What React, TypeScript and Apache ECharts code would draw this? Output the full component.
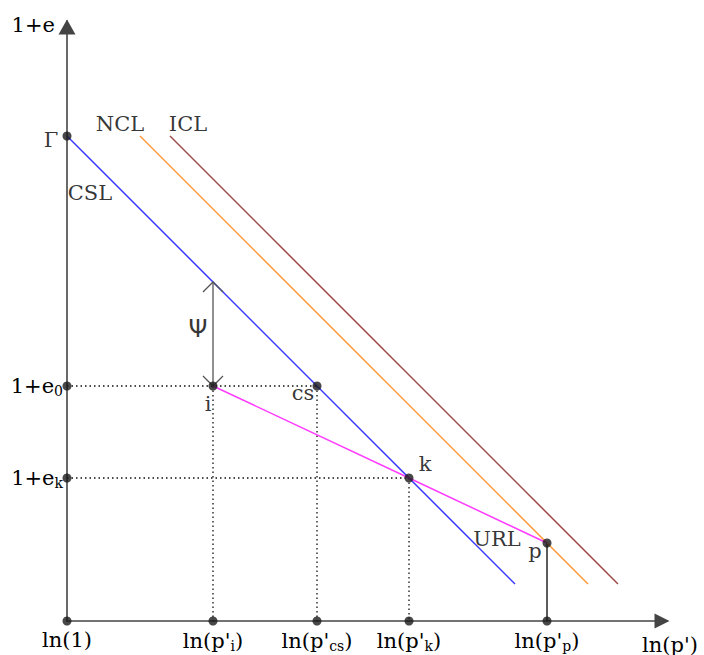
import React, { useEffect, useRef } from "react";
import * as echarts from "echarts";

// ---- values (axis units: ln(p') horizontally, 1+e vertically) ----
const GAMMA = [0, 4.85];          // CSL intercept Γ
const POINT_I = [1.46, 2.35];     // initial state i
const POINT_CS = [2.5, 2.35];     // critical state at e0
const POINT_K = [3.42, 1.43];     // k (URL ∩ CSL)
const POINT_P = [4.8, 0.78];      // p (on NCL)
const PSI_TOP = [1.46, 3.39];     // CSL above i

const CSL = [GAMMA, [4.48, 0.37]];
const NCL = [[0.73, 4.85], [5.21, 0.37]];
const ICL = [[1.03, 4.85], [5.51, 0.37]];
const URL = [POINT_I, POINT_K, POINT_P];

const X_TICKS = [0, POINT_I[0], POINT_CS[0], POINT_K[0], POINT_P[0]];
const X_TICK_LABELS = ["ln(1)", "ln(p'{s|i})", "ln(p'{s|cs})", "ln(p'{s|k})", "ln(p'{s|p})"];
const Y_TICKS = [POINT_I[1], POINT_K[1]];
const Y_TICK_LABELS = ["1+e{s|0}", "1+e{s|k}"];

const FONT = "DejaVu Serif";
const TXT = "#000";
const FS = 21;

export default function App() {
  const ref = useRef<HTMLDivElement>(null);
  useEffect(() => {
    if (!ref.current) return;
    const chart = echarts.init(ref.current, undefined, { renderer: "svg" });

    const rich = { s: { fontSize: 14, fontFamily: FONT, color: TXT, padding: [10, 0, 0, 0] } };
    const axisLineStyle = { color: "#444", width: 1.6 };

    const dotted = (pts: number[][]) => ({
      type: "line",
      data: pts,
      symbol: "none",
      silent: true,
      lineStyle: { color: "#111", width: 1.3, type: [1.5, 3] },
      z: 1,
    });

    const line = (pts: number[][], color: string) => ({
      type: "line",
      data: pts,
      symbol: "none",
      silent: true,
      lineStyle: { color, width: 1.5 },
      z: 2,
    });

    const ann = (pt: number[], text: string, offset: number[], size = FS, family = FONT) => ({
      value: pt,
      symbolSize: 0,
      label: {
        show: true,
        position: "inside",
        formatter: text,
        offset,
        fontSize: size,
        fontFamily: family,
        color: TXT,
        align: "center",
        verticalAlign: "middle",
      },
    });

    const dots = [
      GAMMA, [0, POINT_I[1]], [0, POINT_K[1]], [0, 0],
      [POINT_I[0], 0], [POINT_CS[0], 0], [POINT_K[0], 0], [POINT_P[0], 0],
      POINT_I, POINT_CS, POINT_K, POINT_P,
    ];

    chart.setOption({
      animation: false,
      grid: { left: 67, top: 21, width: 600, height: 600 },
      xAxis: {
        type: "value",
        min: 0,
        max: 6,
        splitLine: { show: false },
        axisTick: { show: false },
        axisLine: {
          onZero: false,
          lineStyle: axisLineStyle,
          symbol: ["none", "triangle"],
          symbolSize: [15, 15],
          symbolOffset: [0, -5],
        },
        axisLabel: {
          customValues: X_TICKS,
          formatter: (v: number) => {
            const i = X_TICKS.findIndex((t) => Math.abs(t - v) < 1e-6);
            return i >= 0 ? X_TICK_LABELS[i] : "";
          },
          margin: 8,
          fontSize: FS,
          fontFamily: FONT,
          color: TXT,
          rich,
        },
        name: "ln(p')",
        nameLocation: "end",
        nameGap: 3,
        nameTextStyle: {
          fontSize: FS,
          fontFamily: FONT,
          color: TXT,
          align: "center",
          verticalAlign: "top",
          padding: [13, 0, 0, 0],
        },
      },
      yAxis: {
        type: "value",
        min: 0,
        max: 6,
        splitLine: { show: false },
        axisTick: { show: false },
        axisLine: {
          onZero: false,
          lineStyle: axisLineStyle,
          symbol: ["none", "triangle"],
          symbolSize: [17, 15],
          symbolOffset: [0, -6],
        },
        axisLabel: {
          customValues: Y_TICKS,
          formatter: (v: number) => {
            const i = Y_TICKS.findIndex((t) => Math.abs(t - v) < 1e-6);
            return i >= 0 ? Y_TICK_LABELS[i] : "";
          },
          margin: 4,
          fontSize: FS,
          fontFamily: FONT,
          color: TXT,
          rich,
        },
        name: "1+e",
        nameLocation: "end",
        nameGap: -4,
        nameTextStyle: {
          fontSize: FS,
          fontFamily: FONT,
          color: TXT,
          align: "right",
          verticalAlign: "middle",
          padding: [0, 12, 0, 0],
        },
      },
      series: [
        dotted([[0, POINT_I[1]], POINT_CS]),
        dotted([[0, POINT_K[1]], POINT_K]),
        dotted([POINT_I, [POINT_I[0], 0]]),
        dotted([POINT_CS, [POINT_CS[0], 0]]),
        dotted([POINT_K, [POINT_K[0], 0]]),
        {
          type: "line",
          data: [POINT_P, [POINT_P[0], 0]],
          symbol: "none",
          silent: true,
          lineStyle: { color: "#333", width: 1.6 },
          z: 1,
        },
        line(CSL, "#3a3aff"),
        line(NCL, "#ff9a3c"),
        line(ICL, "#a04a4a"),
        line(URL, "#ff3cff"),
        {
          type: "custom",
          silent: true,
          data: [[PSI_TOP[0], PSI_TOP[1], POINT_I[1]]],
          renderItem: (params: any, api: any) => {
            const t = api.coord([api.value(0), api.value(1)]);
            const b = api.coord([api.value(0), api.value(2)]);
            const st = { stroke: "#555", lineWidth: 1.3, fill: "none" };
            return {
              type: "group",
              children: [
                { type: "line", shape: { x1: t[0], y1: t[1], x2: b[0], y2: b[1] }, style: st },
                {
                  type: "polyline",
                  shape: { points: [[t[0] - 10, t[1] + 10], [t[0], t[1]], [t[0] + 10, t[1] + 10]] },
                  style: st,
                },
                {
                  type: "polyline",
                  shape: { points: [[b[0] - 10, b[1] - 10], [b[0], b[1]], [b[0] + 10, b[1] - 10]] },
                  style: st,
                },
              ],
            };
          },
          z: 3,
        },
        {
          type: "scatter",
          data: dots,
          symbolSize: 9,
          itemStyle: { color: "#1a1a1a" },
          silent: true,
          z: 5,
        },
        {
          type: "scatter",
          silent: true,
          z: 6,
          data: [
            ann(GAMMA, "Γ", [-16, 4]),
            ann(NCL[0], "NCL", [-20, -12]),
            ann(ICL[0], "ICL", [18, -12]),
            ann(GAMMA, "CSL", [23, 57]),
            ann([PSI_TOP[0], (PSI_TOP[1] + POINT_I[1]) / 2], "Ψ", [-15, -5], 24, "DejaVu Sans"),
            ann(POINT_I, "i", [-5, 18]),
            ann(POINT_CS, "cs", [-14, 7]),
            ann(POINT_K, "k", [16, -14]),
            ann(POINT_P, "URL", [-50, -4]),
            ann(POINT_P, "p", [-12, 8]),
          ],
        },
      ],
    });
    return () => chart.dispose();
  }, []);
  return (
    <div
      ref={ref}
      style={{ position: "fixed", left: 0, top: 0, width: 704, height: 655, background: "#fff" }}
    />
  );
}
